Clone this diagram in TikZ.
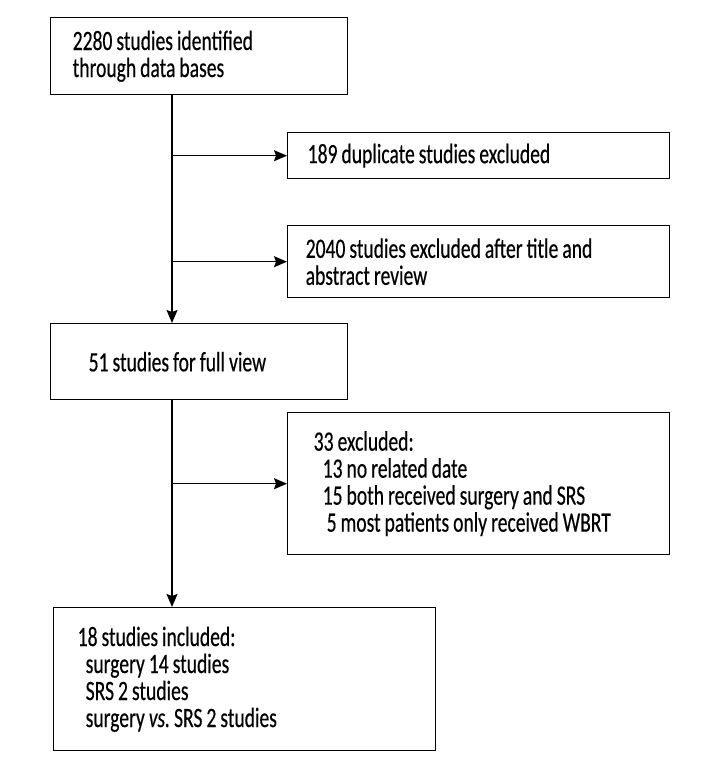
\documentclass[tikz,border=0pt]{standalone}
\usepackage{fontspec}
\setmainfont[FakeStretch=0.7, FakeBold=0.4]{Carlito}
\usetikzlibrary{arrows.meta}
\newcommand\boxfont{\fontsize{28}{27}\selectfont}
\begin{document}
\begin{tikzpicture}[x=1pt, y=-1pt,
  box/.style={draw, line width=1.4pt, anchor=north west, align=left, inner ysep=0pt, font=\boxfont,
    execute at begin node={\spaceskip=4pt plus 1pt minus 1pt\xspaceskip=4pt plus 1pt\relax}},
  arr/.style={line width=1.4pt, -{Stealth[length=13pt, width=11pt, inset=2pt]}}]
  \useasboundingbox (0,0) rectangle (720,768);
  \node[box, inner xsep=22pt, text width=253pt, minimum width=297pt, minimum height=77pt] (ident) at (50,17)
    {2280 studies identified\\through data bases};
  \node[box, inner xsep=20pt, text width=342pt, minimum width=382pt, minimum height=46pt] (dupl) at (287,132)
    {189 duplicate studies excluded};
  \node[box, inner xsep=18pt, text width=346pt, minimum width=382pt, minimum height=72pt] (title) at (287,225)
    {2040 studies excluded after title and\\abstract review};
  \node[box, inner xsep=38pt, text width=221pt, minimum width=297pt, minimum height=76pt] (full) at (50,323)
    {51 studies for full view};
  \node[box, inner xsep=26pt, text width=330pt, minimum width=382pt, minimum height=142pt] (excl) at (287,412)
    {33 excluded:\\\hspace*{9pt}13 no related date\\\hspace*{9pt}15 both received surgery and SRS\\\hspace*{13pt}5 most patients only received WBRT};
  \node[box, inner xsep=24pt, text width=334pt, minimum width=382pt, minimum height=143pt] (incl) at (53,607)
    {18 studies included:\\\hspace*{8pt}surgery 14 studies\\\hspace*{8pt}SRS 2 studies\\\hspace*{8pt}surgery \textit{vs.} SRS 2 studies};
  \coordinate (spine) at (172,0);
  \draw[arr] (ident.south -| spine) -- (full.north -| spine);
  \draw[arr] (dupl.west -| spine) -- (dupl.west);
  \draw[arr] (title.west -| spine) -- (title.west);
  \draw[arr] (full.south -| spine) -- (incl.north -| spine);
  \draw[arr] (excl.west -| spine) -- (excl.west);
\end{tikzpicture}
\end{document}
